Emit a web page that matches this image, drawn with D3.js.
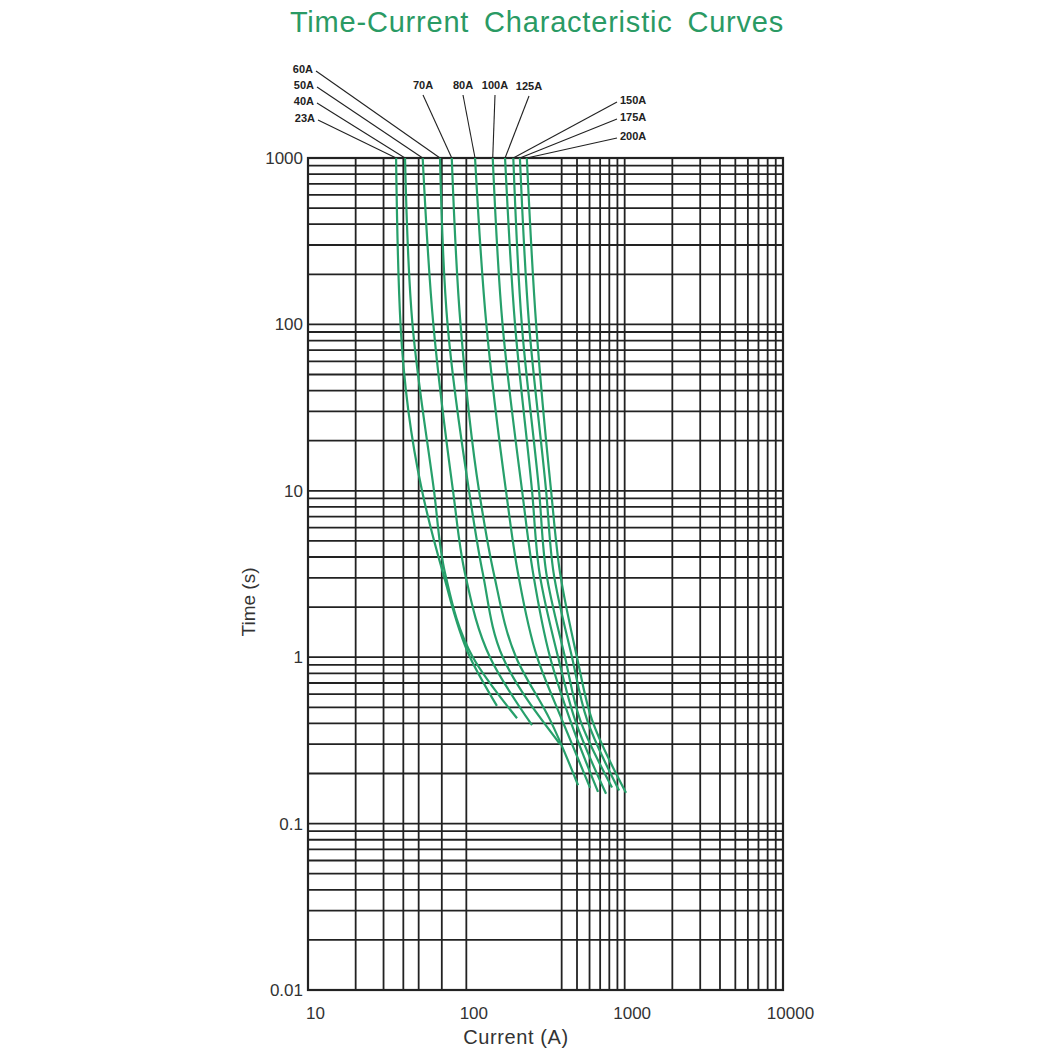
<!DOCTYPE html>
<html lang="en">
<head>
    <meta charset="UTF-8">
    <title>Time-Current Characteristic Curves</title>
    <script src="https://d3js.org/d3.v7.min.js"></script>
    <style>
        body { margin: 0; background: #fff; font-family: "Liberation Sans", Arial, sans-serif; }
    </style>
</head>
<body>
    <div id="chart"></div>

    <script>
        // each curve: [current (A), time (s)]
        const c23A  = [[36, 1000], [38.4, 100], [52.5, 10], [71.3, 3.2], [105.5, 1], [156, 0.51]];
        const c40A  = [[41, 1000], [45.7, 100], [62.5, 10], [73.4, 3.2], [110, 1], [209, 0.43]];
        const c50A  = [[53, 1000], [61.9, 100], [82.4, 10], [98, 3.2], [141, 1], [260, 0.39]];
        const c60A  = [[68.2, 1000], [76.1, 100], [104, 10], [127, 3.2], [170, 1], [391, 0.3]];
        const c70A  = [[80.9, 1000], [91.9, 100], [120.3, 10], [149, 3.2], [206, 1], [338, 0.42], [508, 0.17]];
        const c80A  = [[113.5, 1000], [133.8, 100], [178, 10], [212, 3.2], [280, 1], [402, 0.42], [605, 0.164]];
        const c100A = [[146.8, 1000], [169.3, 100], [225, 10], [264, 3.2], [338, 1], [452, 0.42], [679, 0.155]];
        const c125A = [[175.6, 1000], [203, 100], [260, 10], [290, 3.2], [380, 1], [486, 0.42], [763, 0.151]];
        const c150A = [[198, 1000], [224, 100], [288, 10], [320, 3.2], [420, 1], [523, 0.42], [832, 0.165]];
        const c175A = [[218, 1000], [249, 100], [319, 10], [356, 3.2], [465, 1], [579, 0.42], [922, 0.158]];
        const c200A = [[241, 1000], [276, 100], [343, 10], [391, 3.2], [500, 1], [622, 0.42], [1020, 0.153]];

        const curveNames = ["23A", "40A", "50A", "60A", "70A", "80A", "100A", "125A", "150A", "175A", "200A"];
        const curveData = [c23A, c40A, c50A, c60A, c70A, c80A, c100A, c125A, c150A, c175A, c200A];

        const xTickValues = [10, 100, 1000, 10000];
        const xTickLabels = ["10", "100", "1000", "10000"];
        const yTickValues = [0.01, 0.1, 1, 10, 100, 1000];
        const yTickLabels = ["0.01", "0.1", "1", "10", "100", "1000"];
        // the vertical grid in the picture skips some minor values
        const xGridValues = [20, 30, 40, 50, 70, 100, 400, 500, 600, 700, 800, 900, 1000,
                             2000, 3000, 4000, 5000, 6000, 7000, 8000, 9000];
        const yGridValues = d3.range(-2, 3).flatMap(e => d3.range(1, 10).map(k => k * Math.pow(10, e)));

        // where the callout text sits: [x, y, anchor]
        const labelLayout = {
            "60A": [313, 73, "end"], "50A": [314, 89, "end"], "40A": [314, 105, "end"], "23A": [315, 122, "end"],
            "70A": [423, 89, "middle"], "80A": [463, 89, "middle"], "100A": [495, 89, "middle"], "125A": [529, 90, "middle"],
            "150A": [620, 104, "start"], "175A": [620, 121, "start"], "200A": [620, 140, "start"]
        };

        const width = 1052, height = 1052;
        const plot = { left: 308, right: 783, top: 158, bottom: 990 };

        const svg = d3.select("#chart").append("svg")
            .attr("width", width)
            .attr("height", height);

        const x = d3.scaleLog().domain([10, 10000]).range([plot.left, plot.right]);
        const y = d3.scaleLog().domain([0.01, 1000]).range([plot.bottom, plot.top]);

        // title
        svg.append("text")
            .attr("x", 537)
            .attr("y", 32)
            .attr("text-anchor", "middle")
            .attr("fill", "#2a9a64")
            .style("font-size", "29px")
            .style("letter-spacing", "0.8px")
            .style("word-spacing", "6px")
            .text("Time-Current Characteristic Curves");

        // grid
        const grid = svg.append("g").attr("stroke", "#222").attr("stroke-width", 1.8);
        grid.selectAll(".hgrid")
            .data(yGridValues)
            .enter().append("line")
            .attr("x1", plot.left).attr("x2", plot.right)
            .attr("y1", d => y(d)).attr("y2", d => y(d));
        grid.selectAll(".vgrid")
            .data(xGridValues)
            .enter().append("line")
            .attr("x1", d => x(d)).attr("x2", d => x(d))
            .attr("y1", plot.top).attr("y2", plot.bottom);
        svg.append("rect")
            .attr("x", plot.left).attr("y", plot.top)
            .attr("width", plot.right - plot.left)
            .attr("height", plot.bottom - plot.top)
            .attr("fill", "none")
            .attr("stroke", "#222")
            .attr("stroke-width", 2.2);

        // axes (labels only, the frame is drawn above)
        const xAxis = svg.append("g")
            .attr("transform", `translate(7,${plot.bottom})`)
            .call(d3.axisBottom(x).tickValues(xTickValues).tickSize(0).tickPadding(17)
                .tickFormat((d, i) => xTickLabels[i]));
        const yAxis = svg.append("g")
            .attr("transform", `translate(${plot.left - 5},0)`)
            .call(d3.axisLeft(y).tickValues(yTickValues).tickSize(0).tickPadding(0)
                .tickFormat((d, i) => yTickLabels[i]));
        [xAxis, yAxis].forEach(a => {
            a.select(".domain").remove();
            a.selectAll("text")
                .attr("fill", "#333")
                .style("font-family", "'Liberation Sans', Arial, sans-serif")
                .style("font-size", "17px");
        });

        svg.append("text")
            .attr("x", 516)
            .attr("y", 1044)
            .attr("text-anchor", "middle")
            .attr("fill", "#333")
            .style("font-size", "20px")
            .style("letter-spacing", "0.6px")
            .text("Current (A)");

        svg.append("text")
            .attr("transform", "translate(255,602) rotate(-90)")
            .attr("text-anchor", "middle")
            .attr("fill", "#333")
            .style("font-size", "19px")
            .text("Time (s)");

        // curves
        const line = d3.line()
            .x(d => x(d[0]))
            .y(d => y(d[1]))
            .curve(d3.curveMonotoneY);

        svg.append("g").selectAll("path")
            .data(curveData)
            .enter().append("path")
            .attr("d", line)
            .attr("fill", "none")
            .attr("stroke", "#27a06b")
            .attr("stroke-width", 2.2);

        // callouts
        const callouts = svg.append("g");
        curveNames.forEach((name, i) => {
            const [lx, ly, anchor] = labelLayout[name];
            const top = curveData[i][0];
            const sx = anchor === "end" ? lx + 3 : anchor === "start" ? lx - 3 : lx;
            const sy = anchor === "middle" ? ly + 6 : ly - 2;
            callouts.append("line")
                .attr("x1", sx).attr("y1", sy)
                .attr("x2", x(top[0])).attr("y2", y(top[1]))
                .attr("stroke", "#222")
                .attr("stroke-width", 1.1);
            callouts.append("text")
                .attr("x", lx).attr("y", ly)
                .attr("text-anchor", anchor)
                .attr("fill", "#222")
                .style("font-size", "11px")
                .style("font-weight", "bold")
                .text(name);
        });
    </script>
</body>
</html>
